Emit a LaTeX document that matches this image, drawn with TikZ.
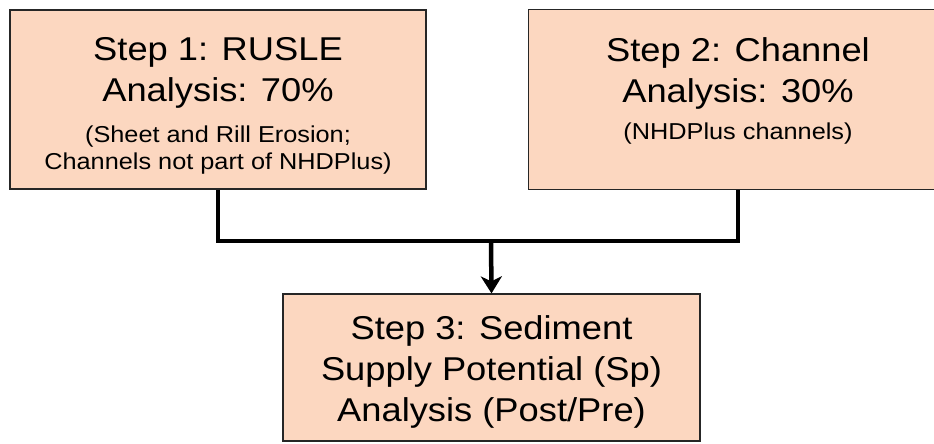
\documentclass[tikz,border=0pt]{standalone}
\usepackage{fontspec}
\setmainfont{Liberation Sans}[FakeStretch=1.1]
\usepackage{tikz}
\usetikzlibrary{arrows.meta,positioning}
\definecolor{peach}{RGB}{252,215,192}

\tikzset{
  stepbox/.style={draw=black!85, fill=peach, line width=1.2pt},
  steptitle/.style={inner sep=0pt, align=center, font=\fontsize{33}{41}\selectfont},
  stepnote/.style={inner sep=0pt, align=center, font=\fontsize{23}{27}\selectfont},
  link/.style={black, line width=4.5pt},
}

\begin{document}
\begin{tikzpicture}[x=1pt,y=-1pt]
\useasboundingbox (0,0) rectangle (934,444);

\node[stepbox, minimum width=416pt, minimum height=179pt] (rusle) at (218,99.5) {};
\node[stepbox, draw=none, minimum width=418pt, minimum height=179pt] (channel) at (738,99.5) {};
\draw[black!85, line width=1.2pt] (channel.north east) -- (channel.north west) -- (channel.south west) -- (channel.south east); %right side runs off the page
\node[stepbox, minimum width=417pt, minimum height=147pt] (sedsupply) at (491.5,367.5) {};

\node[steptitle, below=28pt of rusle.north] (rusle title) {Step 1: RUSLE\\Analysis: 70\%};
\node[stepnote, below=116pt of rusle.north] (rusle note) {(Sheet and Rill Erosion;\\Channels not part of NHDPlus)};
\node[steptitle, below=28pt of channel.north] (channel title) {Step 2: Channel\\Analysis: 30\%};
\node[stepnote, below=113pt of channel.north] (channel note) {(NHDPlus channels)};
\node[steptitle, below=22pt of sedsupply.north] (sedsupply title) {Step 3: Sediment\\Supply Potential (Sp)\\Analysis (Post/Pre)};

\coordinate (join) at (491,241); %meeting point
\draw[link] (rusle.south) |- (join) -| (channel.south);
\draw[link, -{Stealth[length=17pt,width=21pt,inset=5pt]}] (join) -- (sedsupply.north);
\end{tikzpicture}
\end{document}
